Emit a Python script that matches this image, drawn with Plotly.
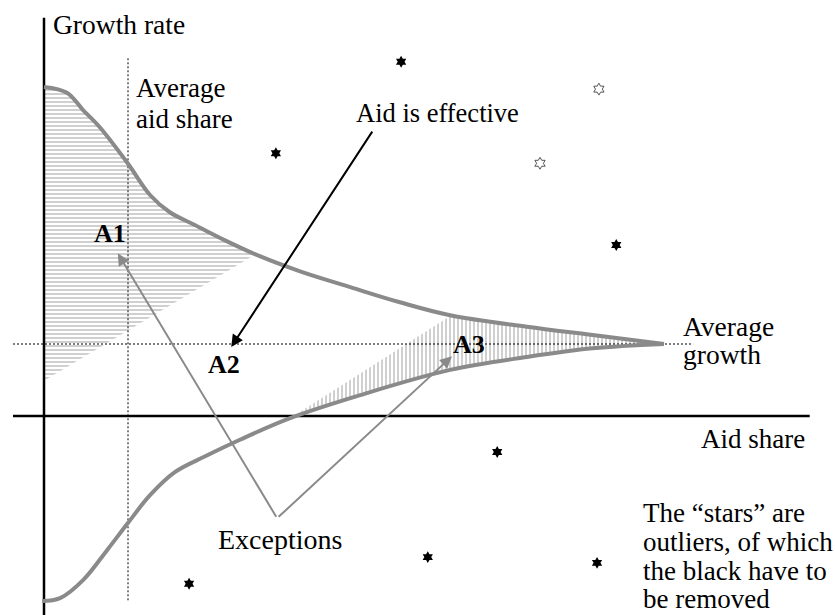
import plotly.graph_objects as go

# Schematic units: x = aid share, y = growth rate (average growth = 1, curves meet at x = 10)
avg_aid_share = 1.355
avg_growth = 1.0

upper_x = [0, 0.37, 0.63, 0.90, 1.35, 1.71, 2.03, 2.44, 2.92, 3.48, 4.13, 4.94, 5.74, 6.55, 7.79, 8.85, 10]
upper_y = [4.57, 4.49, 4.25, 4.01, 3.51, 3.07, 2.83, 2.65, 2.44, 2.22, 2.01, 1.79, 1.58, 1.40, 1.24, 1.125, 1.0]

lower_x = [-0.03, 0.26, 0.63, 1.02, 1.35, 1.71, 2.11, 2.60, 3.16, 3.97, 5.10, 6.55, 7.79, 8.85, 10]
lower_y = [-2.57, -2.53, -2.28, -1.86, -1.49, -1.10, -0.78, -0.56, -0.33, -0.03, 0.29, 0.64, 0.82, 0.94, 1.0]

# hatched areas
a1_x = [0, 0, 0.37, 0.63, 0.90, 1.35, 1.71, 2.03, 2.44, 2.92, 3.40, 0]
a1_y = [0.49, 4.57, 4.49, 4.25, 4.01, 3.51, 3.07, 2.83, 2.65, 2.44, 2.24, 0.49]
a3_x = [3.97, 6.55, 7.79, 8.85, 10, 8.85, 7.79, 6.55, 5.10, 3.97]
a3_y = [-0.03, 1.39, 1.24, 1.125, 1.0, 0.94, 0.82, 0.64, 0.29, -0.03]

# outliers ("stars")
black_star_x = [5.76, 3.74, 9.23, 7.31, 6.19, 2.34, 8.92]
black_star_y = [4.92, 3.65, 2.375, -0.50, -1.96, -2.33, -2.04]
white_star_x = [8.95, 8.00]
white_star_y = [4.54, 3.51]

# axis extents
x_axis_ext = [-0.5, 12.35]
y_axis_ext = [-2.8, 5.53]

FONT = "Liberation Serif, Times New Roman, serif"
GRAY = "#8a8a8a"
HATCH = "#8a8a8a"

fig = go.Figure()

fig.add_trace(go.Scatter(x=a1_x, y=a1_y, mode="lines", fill="toself",
                         fillcolor="rgba(0,0,0,0)", line=dict(width=0, color="rgba(0,0,0,0)"),
                         fillpattern=dict(shape="-", fgcolor=HATCH, size=4, solidity=0.4),
                         hoverinfo="skip"))
fig.add_trace(go.Scatter(x=a3_x, y=a3_y, mode="lines", fill="toself",
                         fillcolor="rgba(0,0,0,0)", line=dict(width=0, color="rgba(0,0,0,0)"),
                         fillpattern=dict(shape="|", fgcolor=HATCH, size=4, solidity=0.4),
                         hoverinfo="skip"))

# dotted average lines
fig.add_trace(go.Scatter(x=[avg_aid_share, avg_aid_share], y=[-2.56, 4.99], mode="lines",
                         line=dict(color="black", width=1, dash="2px,2px")))
fig.add_trace(go.Scatter(x=[-0.5, 10.47], y=[avg_growth, avg_growth], mode="lines",
                         line=dict(color="black", width=1, dash="2px,2px")))

# axes
fig.add_trace(go.Scatter(x=[0, 0], y=y_axis_ext, mode="lines", line=dict(color="black", width=2.5)))
fig.add_trace(go.Scatter(x=x_axis_ext, y=[0, 0], mode="lines", line=dict(color="black", width=2.5)))

# curves
fig.add_trace(go.Scatter(x=upper_x, y=upper_y, mode="lines",
                         line=dict(color=GRAY, width=4, shape="spline", smoothing=1)))
fig.add_trace(go.Scatter(x=lower_x, y=lower_y, mode="lines",
                         line=dict(color=GRAY, width=4, shape="spline", smoothing=1)))

# stars
fig.add_trace(go.Scatter(x=black_star_x, y=black_star_y, mode="markers",
                         marker=dict(symbol="hexagram", size=9, color="black", line=dict(width=0))))
fig.add_trace(go.Scatter(x=white_star_x, y=white_star_y, mode="markers",
                         marker=dict(symbol="hexagram-open", size=9, color="#555555",
                                     line=dict(width=1, color="#555555"))))

def label(text, x, y, size=27.5, bold=False):
    fig.add_annotation(x=x, y=y, xref="x", yref="y", text=f"<b>{text}</b>" if bold else text,
                       showarrow=False, xanchor="left", yanchor="middle", borderpad=0,
                       font=dict(family=FONT, size=size, color="black"))

label("Growth rate", 0.13, 5.44, 27.5)
label("Average", 1.47, 4.556, 27)
label("aid share", 1.47, 4.125, 27)
label("Aid is effective", 5.02, 4.21, 26.5)
label("Exceptions", 2.79, -1.72, 28)
label("Average", 10.29, 1.25, 27.5)
label("growth", 10.29, 0.86, 27.5)
label("Aid share", 10.58, -0.32, 27)
label("The “stars” are", 9.645, -1.35, 27)
label("outliers, of which", 9.645, -1.755, 27)
label("the black have to", 9.645, -2.155, 27)
label("be removed", 9.645, -2.545, 27)
label("A1", 0.79, 2.54, 26, bold=True)
label("A2", 2.63, 0.72, 26, bold=True)
label("A3", 6.58, 0.99, 26, bold=True)

def arrow(x, y, ax, ay, color, width):
    fig.add_annotation(x=x, y=y, ax=ax, ay=ay, xref="x", yref="y", axref="x", ayref="y",
                       text="", showarrow=True, arrowhead=2, arrowsize=1.2,
                       arrowwidth=width, arrowcolor=color, standoff=0, startstandoff=0)

arrow(3.02, 0.96, 5.31, 3.97, "black", 2)
arrow(1.19, 2.26, 3.76, -1.42, GRAY, 2)
arrow(6.58, 0.83, 3.76, -1.42, GRAY, 2)

fig.update_layout(
    width=835, height=615,
    margin=dict(l=0, r=0, t=0, b=0),
    paper_bgcolor="white", plot_bgcolor="white",
    showlegend=False,
    xaxis=dict(visible=False, range=[-0.7097, 12.758], fixedrange=True),
    yaxis=dict(visible=False, range=[-2.764, 5.778], fixedrange=True),
)

fig.write_html("out.html", config={"displayModeBar": False},
               post_script="document.body.style.margin='0';document.body.style.overflow='hidden';")
